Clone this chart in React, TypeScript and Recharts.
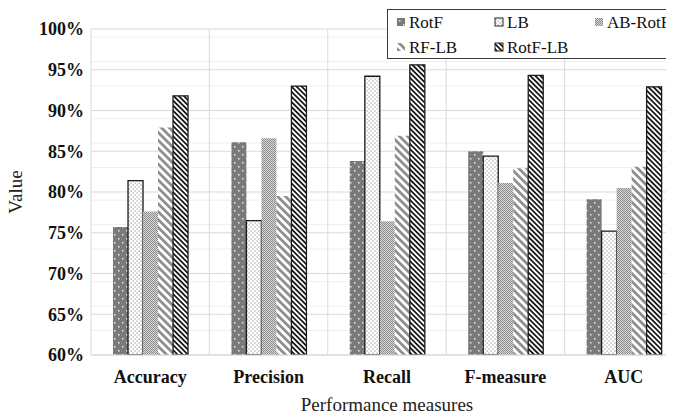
import React from 'react';
import {
  BarChart,
  Bar,
  XAxis,
  YAxis,
  CartesianGrid,
} from 'recharts';

// performance measures on the x axis
const measures = ['Accuracy', 'Precision', 'Recall', 'F-measure', 'AUC'];

// values in percent
const rotF = [75.7, 86.1, 83.8, 85.0, 79.1];
const lb = [81.4, 76.5, 94.2, 84.4, 75.2];
const abRotF = [77.6, 86.6, 76.4, 81.1, 80.5];
const rfLb = [87.9, 79.5, 86.9, 82.9, 83.1];
const rotFLb = [91.8, 93.0, 95.6, 94.3, 92.9];

const yTicks = [60, 65, 70, 75, 80, 85, 90, 95, 100];
const minorTicks = [
  61, 62, 63, 64, 66, 67, 68, 69, 71, 72, 73, 74, 76, 77, 78, 79,
  81, 82, 83, 84, 86, 87, 88, 89, 91, 92, 93, 94, 96, 97, 98, 99,
];

const data = measures.map((m, i) => ({
  name: m,
  RotF: rotF[i],
  LB: lb[i],
  ABRotF: abRotF[i],
  RFLB: rfLb[i],
  RotFLB: rotFLb[i],
}));

const SERIF = '"Liberation Serif", "Times New Roman", serif';

function Patterns({ p }: { p: string }) {
  return (
    <defs>
      <pattern id={`${p}-rotf`} width="8" height="8" patternUnits="userSpaceOnUse">
        <rect width="8" height="8" fill="#7a7a7a" />
        <rect x="2" y="2" width="1.5" height="1.5" fill="#e8e8e8" />
        <rect x="6" y="6" width="1.5" height="1.5" fill="#e8e8e8" />
      </pattern>
      <pattern id={`${p}-lb`} width="4" height="4" patternUnits="userSpaceOnUse">
        <rect width="4" height="4" fill="#ffffff" />
        <rect x="0.5" y="0.5" width="1.2" height="1.2" fill="#9a9a9a" />
        <rect x="2.5" y="2.5" width="1.2" height="1.2" fill="#9a9a9a" />
      </pattern>
      <pattern id={`${p}-ab`} width="2" height="2" patternUnits="userSpaceOnUse">
        <rect width="2" height="2" fill="#d8d8d8" />
        <rect x="0" y="0" width="1" height="1" fill="#8c8c8c" />
        <rect x="1" y="1" width="1" height="1" fill="#8c8c8c" />
      </pattern>
      <pattern id={`${p}-rflb`} width="5.6" height="5.6" patternUnits="userSpaceOnUse" patternTransform="rotate(-45)">
        <rect width="5.6" height="5.6" fill="#ffffff" />
        <rect x="0" y="0" width="2.8" height="5.6" fill="#8f8f8f" />
      </pattern>
      <pattern id={`${p}-rotflb`} width="3.6" height="3.6" patternUnits="userSpaceOnUse" patternTransform="rotate(-45)">
        <rect width="3.6" height="3.6" fill="#ffffff" />
        <rect x="0" y="0" width="1.8" height="3.6" fill="#1a1a1a" />
      </pattern>
    </defs>
  );
}

const legendItems = [
  { label: 'RotF', id: 'rotf', stroke: 'none', x: 0, y: 0 },
  { label: 'LB', id: 'lb', stroke: '#222', x: 98, y: 0 },
  { label: 'AB-RotF', id: 'ab', stroke: 'none', x: 198, y: 0 },
  { label: 'RF-LB', id: 'rflb', stroke: 'none', x: 0, y: 25 },
  { label: 'RotF-LB', id: 'rotflb', stroke: '#222', x: 98, y: 25 },
];

function ChartLegend() {
  return (
    <div
      style={{
        position: 'absolute',
        left: 387,
        top: 9,
        width: 310,
        height: 48,
        border: '1px solid #3a3a3a',
        background: '#fff',
      }}
    >
      <svg width={310} height={48} style={{ position: 'absolute', left: 0, top: 0 }}>
        <Patterns p="lg" />
        {legendItems.map((it) => (
          <g key={it.id} transform={`translate(${9 + it.x}, ${it.y})`}>
            <rect x={0} y={8} width={8} height={8} fill={`url(#lg-${it.id})`} stroke={it.stroke} strokeWidth={1} />
            <text x={12} y={18} fontFamily={SERIF} fontSize={17} fill="#111">
              {it.label}
            </text>
          </g>
        ))}
      </svg>
    </div>
  );
}

export default function App() {
  return (
    <div style={{ position: 'relative', width: 688, height: 415, margin: '-8px 0 0 -8px' }}>
      <BarChart
        width={688}
        height={415}
        data={data}
        margin={{ top: 29, right: 5, left: 8, bottom: 0 }}
        barCategoryGap="18.6%"
        barGap={0}
      >
        <Patterns p="ch" />
        <CartesianGrid
          horizontalValues={minorTicks}
          vertical={false}
          stroke="#efefef"
          strokeWidth={1}
        />
        <CartesianGrid
          stroke="#d9d9d9"
          strokeWidth={1}
          verticalCoordinatesGenerator={({ offset }: any) =>
            measures.map((_, i) => offset.left + ((i + 1) * offset.width) / measures.length)
          }
        />
        <XAxis
          dataKey="name"
          axisLine={{ stroke: '#d9d9d9' }}
          tickLine={false}
          tickSize={6}
          tickMargin={9}
          height={60}
          tick={{ fontFamily: SERIF, fontSize: 18, fontWeight: 700, fill: '#111' }}
          interval={0}
          label={{
            value: 'Performance measures',
            position: 'insideBottom',
            offset: 4,
            style: { fontFamily: SERIF, fontSize: 19, fill: '#222', textAnchor: 'middle' },
          }}
        />
        <YAxis
          type="number"
          domain={[60, 100]}
          ticks={yTicks}
          width={83}
          axisLine={{ stroke: '#d9d9d9' }}
          tickLine={false}
          tickSize={5}
          tickMargin={2}
          tickFormatter={(v: number) => `${v}%`}
          tick={{ fontFamily: SERIF, fontSize: 18, fontWeight: 700, fill: '#111' }}
          allowDataOverflow
          label={{
            value: 'Value',
            angle: -90,
            position: 'insideLeft',
            offset: 7,
            style: { fontFamily: SERIF, fontSize: 19, fill: '#222', textAnchor: 'middle' },
          }}
        />
        <Bar dataKey="RotF" fill="url(#ch-rotf)" isAnimationActive={false} />
        <Bar dataKey="LB" fill="url(#ch-lb)" stroke="#1a1a1a" strokeWidth={1.3} isAnimationActive={false} />
        <Bar dataKey="ABRotF" fill="url(#ch-ab)" isAnimationActive={false} />
        <Bar dataKey="RFLB" fill="url(#ch-rflb)" isAnimationActive={false} />
        <Bar dataKey="RotFLB" fill="url(#ch-rotflb)" stroke="#1a1a1a" strokeWidth={1.3} isAnimationActive={false} />
      </BarChart>
      <ChartLegend />
    </div>
  );
}
